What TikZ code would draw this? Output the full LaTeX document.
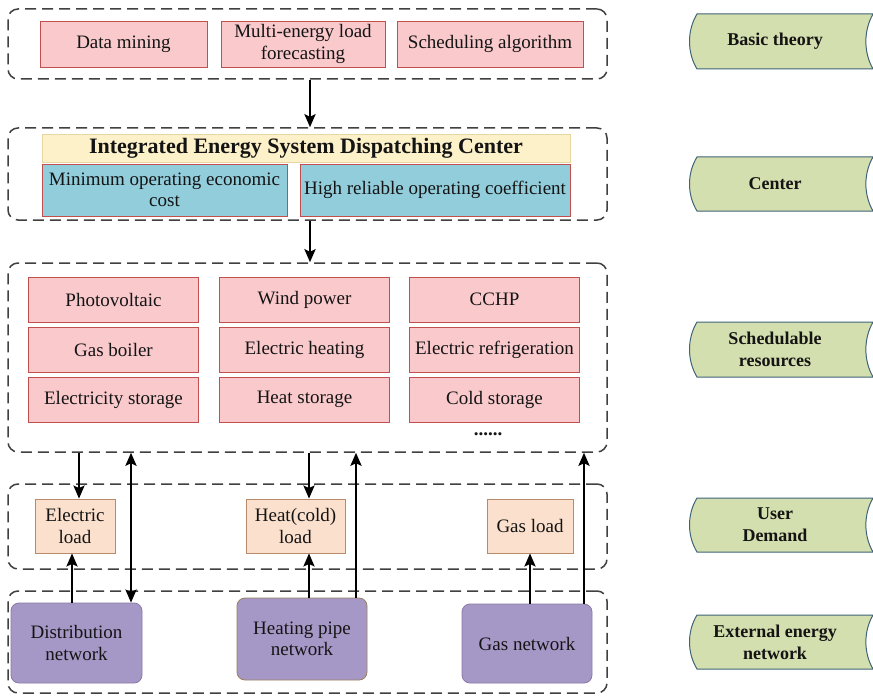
\documentclass[tikz,border=0pt]{standalone}
\usepackage{fontspec}
\setmainfont{Liberation Serif}
\usetikzlibrary{arrows.meta}
\definecolor{pinkfill}{HTML}{F9C9CC}
\definecolor{pinkdraw}{HTML}{C0504D}
\definecolor{yellowfill}{HTML}{FDF1C9}
\definecolor{yellowdraw}{HTML}{E6D6A0}
\definecolor{bluefill}{HTML}{92CDDC}
\definecolor{orangefill}{HTML}{FBE0CD}
\definecolor{orangedraw}{HTML}{B88A6A}
\definecolor{purplefill}{HTML}{A698C6}
\definecolor{purpledraw}{HTML}{8A7AA8}
\definecolor{browndraw}{HTML}{9A8060}
\definecolor{greenfill}{HTML}{D3DFAE}
\definecolor{greendraw}{HTML}{3E6478}
\definecolor{dashgray}{HTML}{404040}
\definecolor{txt}{HTML}{141414}
\newcommand{\myBody}{\fontsize{19}{21.5}\selectfont}
\newcommand{\greenTag}[4]{%
  \draw[tagshape] (697,#2) -- (873,#2)
    .. controls (863.5,{0.7*#2+0.3*#3}) and (863.5,{0.3*#2+0.7*#3}) .. (873,#3)
    -- (697,#3)
    .. controls (687,{0.3*#2+0.7*#3}) and (687,{0.7*#2+0.3*#3}) .. (697,#2) -- cycle;
  \node[tagtext] (#1) at (775,{0.5*#2+0.5*#3}) {#4};}
\begin{document}
\begin{tikzpicture}[x=1pt,y=-1pt,
  every node/.style={text=txt, inner sep=0pt, align=center},
  groupbox/.style={draw=dashgray, line width=1.5pt, dash pattern=on 11pt off 6pt, rounded corners=10pt, minimum width=599pt},
  pinkbox/.style={draw=pinkdraw, fill=pinkfill, line width=0.8pt, font=\myBody},
  hdrbox/.style={draw=yellowdraw, fill=yellowfill, line width=0.8pt, font=\fontsize{22}{24}\selectfont\bfseries},
  bluebox/.style={draw=pinkdraw, fill=bluefill, line width=0.8pt, font=\myBody},
  loadbox/.style={draw=orangedraw, fill=orangefill, line width=0.8pt, font=\myBody},
  netbox/.style={draw=purpledraw, fill=purplefill, line width=0.8pt, rounded corners=8pt, font=\myBody},
  tagshape/.style={draw=greendraw, fill=greenfill, line width=1pt},
  tagtext/.style={font=\fontsize{18}{22}\selectfont\bfseries},
  arr/.style={line width=2.6pt, -{Stealth[length=13pt,width=11pt,inset=2.5pt]}},
  arrboth/.style={line width=2.6pt, {Stealth[length=13pt,width=11pt,inset=2.5pt]}-{Stealth[length=13pt,width=11pt,inset=2.5pt]}}
]
\useasboundingbox (0,0) rectangle (873,698);
\fill[white] (0,0) rectangle (873,698);

% Basic theory
\node[groupbox, minimum height=70pt] (g1) at (307.5,44) {};
\node[pinkbox, minimum width=167pt, minimum height=46pt] (dm) at (123.5,44) {Data mining};
\node[pinkbox, minimum width=164pt, minimum height=46pt] (mf) at (303,44) {Multi-energy load\\forecasting};
\node[pinkbox, minimum width=186pt, minimum height=46pt] (sa) at (490,44) {Scheduling algorithm};

% Center
\node[groupbox, minimum height=92pt] (g2) at (307.5,174) {};
\node[hdrbox, minimum width=528pt, minimum height=28pt] (hdr) at (306,148) {Integrated Energy System Dispatching Center};
\node[bluebox, minimum width=245pt, minimum height=52pt] (bl) at (164.5,190) {Minimum operating economic\\cost};
\node[bluebox, minimum width=270pt, minimum height=52pt] (br) at (435,190) {High reliable operating coefficient};

% Schedulable resources
\node[groupbox, minimum height=189pt] (g3) at (307.5,357.5) {};
\node[pinkbox, minimum width=170pt, minimum height=45pt] (pv) at (113.5,299.5) {Photovoltaic};
\node[pinkbox, minimum width=170pt, minimum height=45pt] (wp) at (304.5,299.5) {Wind power};
\node[pinkbox, minimum width=170pt, minimum height=45pt] (cchp) at (494.5,299.5) {CCHP};
\node[pinkbox, minimum width=170pt, minimum height=45pt] (gb) at (113.5,349.5) {Gas boiler};
\node[pinkbox, minimum width=170pt, minimum height=45pt] (eh) at (304.5,349.5) {Electric heating};
\node[pinkbox, minimum width=170pt, minimum height=45pt] (er) at (494.5,349.5) {Electric refrigeration};
\node[pinkbox, minimum width=170pt, minimum height=45pt] (es) at (113.5,399.5) {Electricity storage};
\node[pinkbox, minimum width=170pt, minimum height=45pt] (hs) at (304.5,399.5) {Heat storage};
\node[pinkbox, minimum width=170pt, minimum height=45pt] (cs) at (494.5,399.5) {Cold storage};
\node[font=\myBody\bfseries] (dots) at (488,434) {......};

% User demand
\node[groupbox, minimum height=85pt] (g4) at (307.5,526.5) {};
\node[loadbox, minimum width=80pt, minimum height=54pt] (el) at (75,526) {Electric\\load};
\node[loadbox, minimum width=99pt, minimum height=54pt] (hl) at (295.5,526) {Heat(cold)\\load};
\node[loadbox, minimum width=86pt, minimum height=54pt] (gl) at (530,526) {Gas load};

% External energy network
\node[groupbox, minimum height=102pt] (g5) at (307.5,642) {};
\node[netbox, minimum width=131pt, minimum height=80pt] (dn) at (76.5,643) {Distribution\\network};
\node[netbox, draw=browndraw, minimum width=130pt, minimum height=82pt] (hp) at (302,639) {Heating pipe\\network};
\node[netbox, minimum width=130pt, minimum height=79pt] (gn) at (527,643.5) {Gas network};

% arrow x positions
\coordinate (xm) at (310,0);
\coordinate (xa) at (79,0);
\coordinate (xb) at (72,0);
\coordinate (xc) at (131,0);
\coordinate (xd) at (309,0);
\coordinate (xe) at (356,0);
\coordinate (xf) at (530,0);
\coordinate (xg) at (584,0);

\draw[arr] (xm |- g1.south) -- (xm |- g2.north);
\draw[arr] (xm |- g2.south) -- (xm |- g3.north);
\draw[arr] (xa |- g3.south) -- (xa |- el.north);
\draw[arr] (xb |- dn.north) -- (xb |- el.south);
\draw[arrboth] (xc |- dn.north) -- (xc |- g3.south);
\draw[arr] (xd |- g3.south) -- (xd |- hl.north);
\draw[arr] (xd |- hp.north) -- (xd |- hl.south);
\draw[arr] (xe |- hp.north) -- (xe |- g3.south);
\draw[arr] (xf |- gn.north) -- (xf |- gl.south);
\draw[arr] (xg |- gn.north) -- (xg |- g3.south);

% right-hand tags
\greenTag{tbasic}{14}{69}{Basic theory}
\greenTag{tcenter}{157}{211}{Center}
\greenTag{tsched}{322}{377}{Schedulable\\resources}
\greenTag{tuser}{498}{552}{User\\Demand}
\greenTag{text}{615}{669}{External energy\\network}
\end{tikzpicture}
\end{document}
